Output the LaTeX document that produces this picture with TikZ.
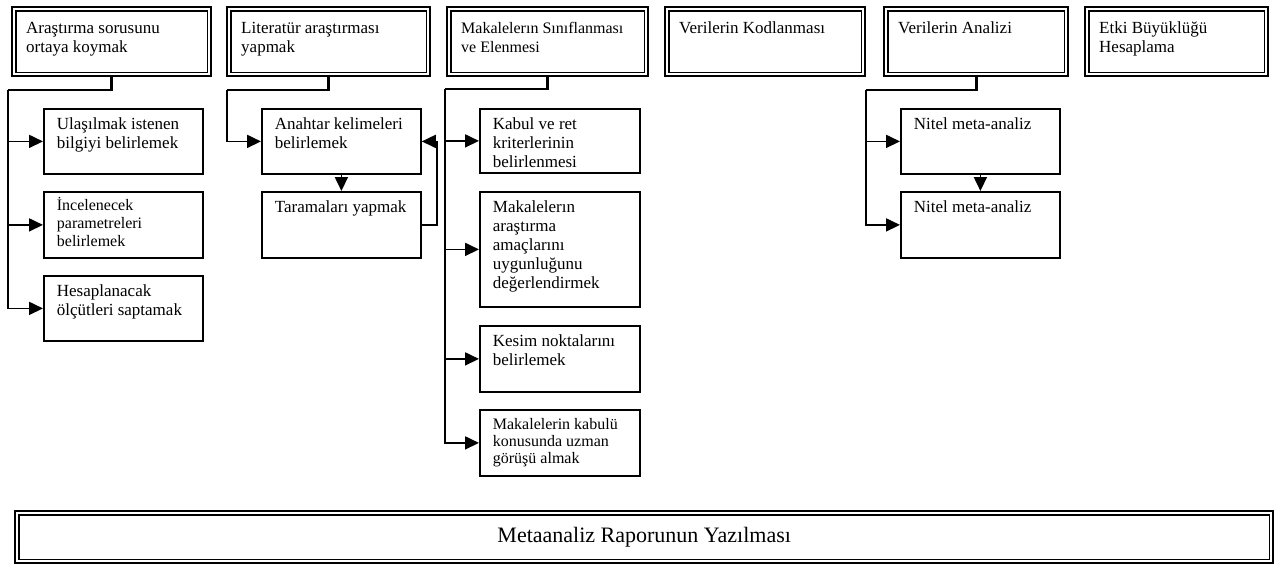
\documentclass[tikz,border=0pt]{standalone}
\usepackage{fontspec}
\setmainfont{Liberation Serif}
\usepackage{tikz}
\usetikzlibrary{arrows.meta,positioning}

% text block of a box: first baseline, text width, box height, text
\newcommand{\kutuyazi}[4]{\parbox[t][#3pt][t]{#2pt}{\raggedright\rule{0pt}{#1pt}#4}}

\begin{document}
\begin{tikzpicture}[x=1pt, y=-1pt, >=Triangle,
    ustkutu/.style={draw, line width=2.4pt, anchor=north west, inner xsep=14pt, inner ysep=0pt,
      font=\fontsize{17}{19}\selectfont,
      path picture={\draw[line width=1.2pt]
        ([shift={(3.8pt,-3.8pt)}]path picture bounding box.north west) rectangle
        ([shift={(-3.8pt,3.8pt)}]path picture bounding box.south east);}},
    altkutu/.style={draw, line width=1.8pt, anchor=north west, inner xsep=13pt, inner ysep=0pt,
      font=\fontsize{17}{19}\selectfont},
    govde/.style={line width=2.6pt},
    dal/.style={line width=1.8pt, -{Triangle[length=14pt,width=13pt]}}]
  \useasboundingbox (0,0) rectangle (1276,567);

  % top row
  \node[ustkutu] (b1) at (11,6) {\kutuyazi{26}{171}{69}{Araştırma sorusunu\\ortaya koymak}};
  \node[ustkutu] (b2) at (226,6) {\kutuyazi{26}{175}{69}{Literatür araştırması\\yapmak}};
  \node[ustkutu, font=\fontsize{16}{19}\selectfont] (b3) at (446,6) {\kutuyazi{26}{173}{69}{Makalelerın Sınıflanması\\ve Elenmesi}};
  \node[ustkutu] (b4) at (664,6) {\kutuyazi{26}{172}{69}{Verilerin Kodlanması}};
  \node[ustkutu] (b5) at (883,6) {\kutuyazi{26}{156}{69}{Verilerin Analizi}};
  \node[ustkutu] (b6) at (1084,6) {\kutuyazi{26}{155}{69}{Etki Büyüklüğü\\Hesaplama}};

  % sub steps
  \node[altkutu] (c11) at (43,108) {\kutuyazi{21}{133}{65}{Ulaşılmak istenen\\bilgiyi belirlemek}};
  \node[altkutu, font=\fontsize{16}{18}\selectfont] (c12) at (43,191) {\kutuyazi{19}{133}{66}{İncelenecek\\parametreleri\\belirlemek}};
  \node[altkutu] (c13) at (43,275) {\kutuyazi{21}{133}{65}{Hesaplanacak\\ölçütleri saptamak}};

  \node[altkutu] (c21) at (261,108) {\kutuyazi{21}{133}{65}{Anahtar kelimeleri\\belirlemek}};
  \node[altkutu] (c22) at (261,191) {\kutuyazi{21}{133}{66}{Taramaları yapmak}};

  \node[altkutu] (c31) at (479,108) {\kutuyazi{21}{134}{64}{Kabul ve ret\\kriterlerinin\\belirlenmesi}};
  \node[altkutu] (c32) at (479,191) {\kutuyazi{21}{134}{115}{Makalelerın\\araştırma\\amaçlarını\\uygunluğunu\\değerlendirmek}};
  \node[altkutu] (c33) at (479,325) {\kutuyazi{21}{134}{66}{Kesim noktalarını\\belirlemek}};
  \node[altkutu, font=\fontsize{16}{17}\selectfont] (c34) at (479,409) {\kutuyazi{20}{134}{66}{Makalelerin kabulü\\konusunda uzman\\görüşü almak}};

  \node[altkutu] (c51) at (900,108) {\kutuyazi{21}{133}{65}{Nitel meta-analiz}};
  \node[altkutu] (c52) at (900,191) {\kutuyazi{21}{133}{66}{Nitel meta-analiz}};

  % report
  \node[ustkutu, inner sep=0pt, minimum width=1258pt, minimum height=52pt,
    font=\fontsize{22}{26}\selectfont] (rapor) at (14,510) {Metaanaliz Raporunun Yazılması};

  % trunk points
  \coordinate (t1) at (8,90);
  \coordinate (t2) at (227,90);
  \coordinate (t3) at (445,89);
  \coordinate (t5) at (866,90);
  \coordinate (dongu) at (437,0);

  \draw[govde] (b1.south) |- (t1);
  \draw[dal] (t1) |- (c13.west);
  \draw[dal] (t1 |- c11.west) -- (c11.west);
  \draw[dal] (t1 |- c12.west) -- (c12.west);

  \draw[govde] (b2.south) |- (t2);
  \draw[dal] (t2) |- (c21.west);
  \draw[dal] (c21.south) -- (c22.north);
  \draw[dal] (c22.east) -| (dongu |- c21.east) -- (c21.east);

  \draw[govde] (b3.south) |- (t3);
  \draw[dal] (t3) |- (c34.west);
  \foreach \k in {c31,c32,c33}
    \draw[dal] (t3 |- \k.west) -- (\k.west);

  \draw[govde] (b5.south) |- (t5);
  \draw[dal] (t5) |- (c52.west);
  \draw[dal] (t5 |- c51.west) -- (c51.west);
  \draw[dal] (c51.south) -- (c52.north);
\end{tikzpicture}
\end{document}
